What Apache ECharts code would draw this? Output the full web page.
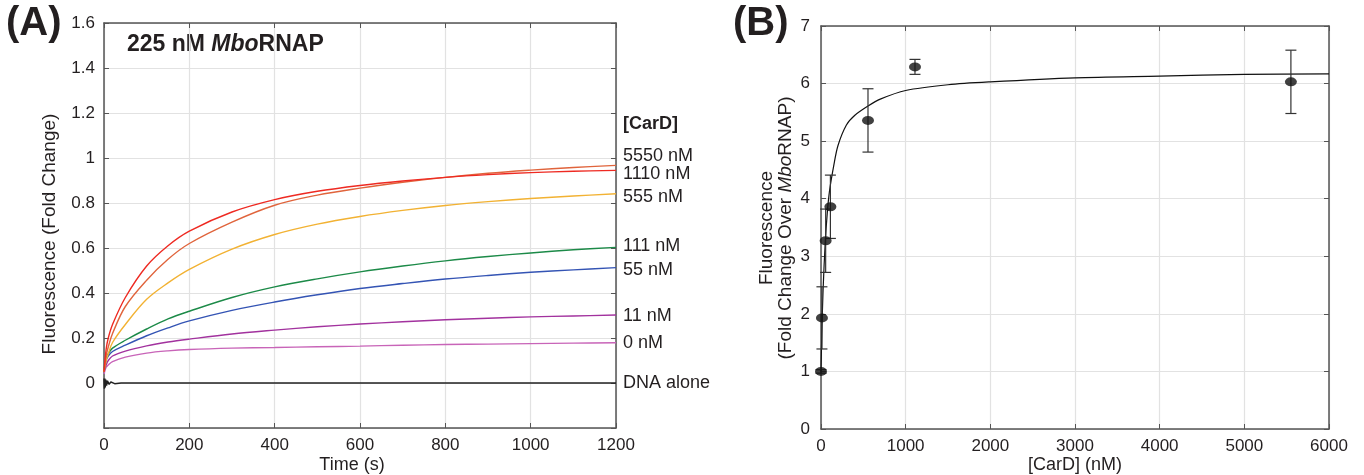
<!DOCTYPE html>
<html>
<head>
<meta charset="utf-8">
<script src="https://cdn.jsdelivr.net/npm/echarts@6/dist/echarts.min.js"></script>
<style>
html,body{margin:0;padding:0;background:#fff;}
#main{width:1364px;height:475px;}
</style>
</head>
<body>
<div id="main"></div>
<script>
// panel A: kinetic traces
var timePoints = [0, 5, 10, 20, 50, 100, 150, 200, 300, 400, 500, 600, 700, 800, 900, 1000, 1100, 1200];
var card5550 = [0.05, 0.15, 0.20, 0.26, 0.38, 0.52, 0.61, 0.675, 0.76, 0.815, 0.852, 0.878, 0.898, 0.914, 0.926, 0.935, 0.941, 0.945];
var card1110 = [0.05, 0.12, 0.16, 0.22, 0.34, 0.457, 0.55, 0.62, 0.715, 0.79, 0.835, 0.866, 0.892, 0.914, 0.932, 0.946, 0.958, 0.967];
var card555 = [0.05, 0.10, 0.13, 0.18, 0.26, 0.372, 0.445, 0.505, 0.595, 0.66, 0.706, 0.74, 0.767, 0.789, 0.806, 0.82, 0.831, 0.841];
var card111 = [0.05, 0.11, 0.13, 0.155, 0.19, 0.24, 0.285, 0.319, 0.38, 0.427, 0.463, 0.494, 0.52, 0.543, 0.562, 0.578, 0.592, 0.603];
var card55 = [0.05, 0.10, 0.12, 0.14, 0.168, 0.21, 0.245, 0.276, 0.323, 0.36, 0.392, 0.42, 0.442, 0.462, 0.478, 0.492, 0.503, 0.513];
var card11 = [0.05, 0.08, 0.10, 0.12, 0.142, 0.165, 0.182, 0.195, 0.218, 0.235, 0.25, 0.262, 0.272, 0.281, 0.288, 0.294, 0.298, 0.302];
var card0 = [0.04, 0.07, 0.08, 0.095, 0.115, 0.133, 0.143, 0.149, 0.155, 0.158, 0.161, 0.164, 0.168, 0.171, 0.173, 0.175, 0.177, 0.179];
var dnaTime = [0, 1, 2, 3, 4, 6, 8, 12, 16, 25, 40, 1200];
var dnaAlone = [0.02, -0.025, 0.02, -0.02, 0.015, -0.012, 0.01, -0.006, 0.005, -0.003, 0, 0];

var traceNames = ['5550 nM', '1110 nM', '555 nM', '111 nM', '55 nM', '11 nM', '0 nM'];
var traceColors = ['#ee2a22', '#e0643c', '#f2b233', '#1c8a48', '#3454b4', '#a2329e', '#c864b8'];
var traceValues = [card5550, card1110, card555, card111, card55, card11, card0];
var labelY = [156, 174, 197, 246, 270, 316, 343]; // label pixel rows at right edge

// panel B: titration
var cardConc = [0, 11, 55, 111, 555, 1110, 5550];
var foldChange = [1.0, 1.93, 3.27, 3.86, 5.36, 6.29, 6.03];
var foldErr = [0.03, 0.54, 0.55, 0.55, 0.55, 0.13, 0.55];
var fitConc = [0, 10, 25, 50, 75, 100, 150, 200, 300, 400, 555, 700, 1000, 1500, 2000, 3000, 4000, 5000, 6000];
var fitValue = [1.0, 1.68, 2.43, 3.24, 3.77, 4.13, 4.57, 4.92, 5.28, 5.45, 5.61, 5.73, 5.88, 5.98, 6.03, 6.10, 6.13, 6.16, 6.17];

var font = "'Liberation Sans', Arial, sans-serif";
var txt = '#231f20';

function pairs(xs, ys) {
    var out = [];
    for (var i = 0; i < xs.length; i++) out.push([xs[i], ys[i]]);
    return out;
}

function plain(v) {
    return String(Math.round(v * 10) / 10);
}

function boxAxis(gridIndex, pos, min, max, interval) {
    return {
        gridIndex: gridIndex, type: 'value', position: pos,
        min: min, max: max, interval: interval,
        axisLine: {show: true, onZero: false, lineStyle: {color: '#555', width: 1.5}},
        axisTick: {show: true, inside: true, length: 5, lineStyle: {color: '#555'}},
        axisLabel: {show: false},
        splitLine: {show: false}
    };
}

var chart = echarts.init(document.getElementById('main'));

var series = [];
for (var i = 0; i < traceValues.length; i++) {
    series.push({
        name: traceNames[i], type: 'line', xAxisIndex: 0, yAxisIndex: 0,
        data: pairs(timePoints, traceValues[i]),
        smooth: 0.35, showSymbol: false, z: 10 - i,
        lineStyle: {color: traceColors[i], width: 1.4}
    });
}
series.push({
    name: 'DNA alone', type: 'line', xAxisIndex: 0, yAxisIndex: 0,
    data: pairs(dnaTime, dnaAlone), showSymbol: false, z: 11,
    lineStyle: {color: '#222', width: 1.5}
});

// panel B series
series.push({
    name: 'fit', type: 'line', xAxisIndex: 2, yAxisIndex: 2,
    data: pairs(fitConc, fitValue), smooth: 0.3, showSymbol: false,
    lineStyle: {color: '#111', width: 1.2}
});
series.push({
    name: 'errors', type: 'custom', xAxisIndex: 2, yAxisIndex: 2,
    data: cardConc.map(function (c, k) { return [c, foldChange[k] - foldErr[k], foldChange[k] + foldErr[k]]; }),
    renderItem: function (params, api) {
        var lo = api.coord([api.value(0), api.value(1)]);
        var hi = api.coord([api.value(0), api.value(2)]);
        var w = 5.5;
        var st = {stroke: '#333', lineWidth: 1.2};
        return {type: 'group', children: [
            {type: 'line', shape: {x1: lo[0], y1: lo[1], x2: hi[0], y2: hi[1]}, style: st},
            {type: 'line', shape: {x1: lo[0] - w, y1: lo[1], x2: lo[0] + w, y2: lo[1]}, style: st},
            {type: 'line', shape: {x1: hi[0] - w, y1: hi[1], x2: hi[0] + w, y2: hi[1]}, style: st}
        ]};
    },
    z: 5
});
series.push({
    name: 'data', type: 'scatter', xAxisIndex: 2, yAxisIndex: 2,
    data: pairs(cardConc, foldChange), symbol: 'circle', symbolSize: [12, 9],
    itemStyle: {color: '#111'}, z: 6
});

var tickLabel = {color: txt, fontSize: 17, fontFamily: font};

var option = {
    animation: false,
    backgroundColor: '#fff',
    grid: [
        {left: 104, right: 748, top: 23, bottom: 47, containLabel: false, outerBoundsMode: 'none'},
        {left: 821, right: 35, top: 26, bottom: 46, containLabel: false, outerBoundsMode: 'none'}
    ],
    xAxis: [
        {
            gridIndex: 0, type: 'value', min: 0, max: 1200, interval: 200,
            axisLine: {show: true, onZero: false, lineStyle: {color: '#555', width: 1.5}},
            axisTick: {show: true, inside: true, length: 5, lineStyle: {color: '#555'}},
            axisLabel: Object.assign({margin: 9, formatter: plain}, tickLabel),
            splitLine: {show: true, lineStyle: {color: '#e2e2e2', width: 1.2}}
        },
        boxAxis(0, 'top', 0, 1200, 200),
        {
            gridIndex: 1, type: 'value', min: 0, max: 6000, interval: 1000,
            axisLine: {show: true, onZero: false, lineStyle: {color: '#555', width: 1.5}},
            axisTick: {show: true, inside: true, length: 5, lineStyle: {color: '#555'}},
            axisLabel: Object.assign({margin: 9, formatter: plain}, tickLabel),
            splitLine: {show: true, lineStyle: {color: '#e2e2e2', width: 1.2}}
        },
        boxAxis(1, 'top', 0, 6000, 1000)
    ],
    yAxis: [
        {
            gridIndex: 0, type: 'value', min: -0.2, max: 1.6, interval: 0.2,
            axisLine: {show: true, onZero: false, lineStyle: {color: '#555', width: 1.5}},
            axisTick: {show: true, inside: true, length: 5, lineStyle: {color: '#555'}},
            axisLabel: Object.assign({
                margin: 9,
                formatter: function (v) {
                    if (v < -0.01) return '';
                    return plain(v);
                }
            }, tickLabel),
            splitLine: {show: true, lineStyle: {color: '#e2e2e2', width: 1.2}}
        },
        boxAxis(0, 'right', -0.2, 1.6, 0.2),
        {
            gridIndex: 1, type: 'value', min: 0, max: 7, interval: 1,
            axisLine: {show: true, onZero: false, lineStyle: {color: '#555', width: 1.5}},
            axisTick: {show: true, inside: true, length: 5, lineStyle: {color: '#555'}},
            axisLabel: Object.assign({margin: 11, formatter: plain}, tickLabel),
            splitLine: {show: true, lineStyle: {color: '#e2e2e2', width: 1.2}}
        },
        boxAxis(1, 'right', 0, 7, 1)
    ],
    series: series,
    graphic: []
};

var g = option.graphic;
g.push({type: 'text', left: 6, top: 4, style: {text: '(A)', fontSize: 40, fontWeight: 'bold', fill: txt, fontFamily: font}});
g.push({type: 'text', left: 733, top: 4, style: {text: '(B)', fontSize: 40, fontWeight: 'bold', fill: txt, fontFamily: font}});
g.push({type: 'text', left: 127, top: 33, style: {
    rich: {b: {fontSize: 23, fontWeight: 'bold', fill: txt, fontFamily: font},
           bi: {fontSize: 23, fontWeight: 'bold', fontStyle: 'italic', fill: txt, fontFamily: font}},
    text: '{b|225 nM }{bi|Mbo}{b|RNAP}'
}});
g.push({type: 'text', x: 623, y: 124, style: {text: '[CarD]', fontSize: 18, fontWeight: 'bold', fill: txt, fontFamily: font, verticalAlign: 'middle'}});
for (var j = 0; j < traceNames.length; j++) {
    g.push({type: 'text', x: 623, y: labelY[j], style: {text: traceNames[j], fontSize: 18, fill: txt, fontFamily: font, verticalAlign: 'middle'}});
}
g.push({type: 'text', x: 623, y: 383, style: {text: 'DNA alone', fontSize: 18, fill: txt, fontFamily: font, verticalAlign: 'middle'}});
// axis titles
g.push({type: 'text', x: 352, y: 465, style: {text: 'Time (s)', fontSize: 18, fill: txt, fontFamily: font, align: 'center', verticalAlign: 'middle'}});
g.push({type: 'text', x: 1075, y: 465, style: {text: '[CarD] (nM)', fontSize: 18, fill: txt, fontFamily: font, align: 'center', verticalAlign: 'middle'}});
g.push({type: 'text', x: 50, y: 234, rotation: Math.PI / 2, style: {
    text: 'Fluorescence (Fold Change)', fontSize: 19, fill: txt, fontFamily: font, align: 'center', verticalAlign: 'middle'}});
g.push({type: 'text', x: 767, y: 228, rotation: Math.PI / 2, style: {
    text: 'Fluorescence', fontSize: 19, fill: txt, fontFamily: font, align: 'center', verticalAlign: 'middle'}});
g.push({type: 'text', x: 786, y: 228, rotation: Math.PI / 2, style: {
    rich: {n: {fontSize: 19, fill: txt, fontFamily: font},
           i: {fontSize: 19, fontStyle: 'italic', fill: txt, fontFamily: font}},
    text: '{n|(Fold Change Over }{i|Mbo}{n|RNAP)}', align: 'center', verticalAlign: 'middle'}});

chart.setOption(option);

window.onresize = function () {
    chart.resize();
};
</script>
</body>
</html>
